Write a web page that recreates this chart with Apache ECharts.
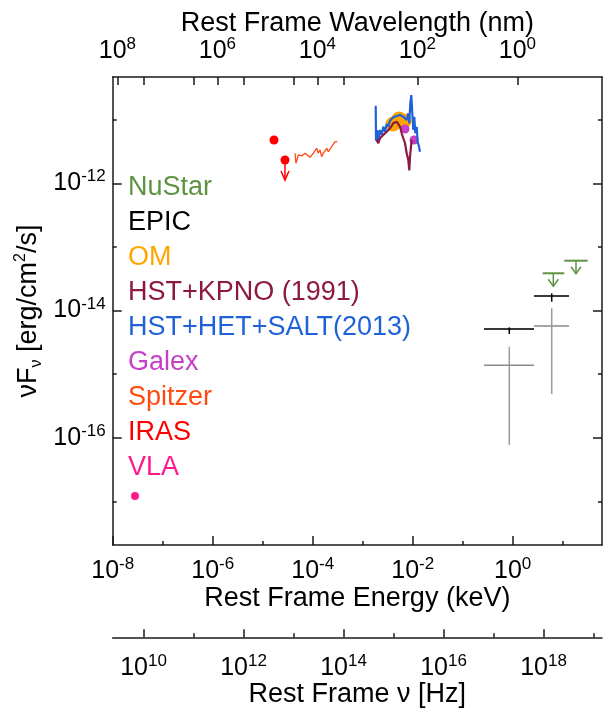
<!DOCTYPE html>
<html><head><meta charset="utf-8">
<script src="https://cdn.jsdelivr.net/npm/echarts@6/dist/echarts.min.js"></script>
<style>html,body{margin:0;padding:0;background:#fff}#c{width:603px;height:708px}</style>
</head><body><div id="c"></div>
<script>
// ---------- axis ranges & ticks ----------
const E_MIN = 1e-8, E_MAX = 61.1;          // keV
const F_MIN = 2.06e-18, F_MAX = 4.69e-11;  // erg/cm2/s
const KEV_TO_HZ = 2.417989e17;
const HC_KEV_NM = 1.239842;

const energyTicks = [1e-8, 1e-6, 1e-4, 1e-2, 1];
const energyMinorTicks = [1e-7, 1e-5, 1e-3, 1e-1, 10];
const fluxTicks = [1e-16, 1e-14, 1e-12];
const fluxMinorTicks = [1e-17, 1e-15, 1e-13, 1e-11];
const wavelengthTicks = [1e8, 1e6, 1e4, 1e2, 1];
const freqTicks = [1e10, 1e12, 1e14, 1e16, 1e18];
const freqMinorTicks = [1e11, 1e13, 1e15, 1e17, 1e19];
const freqTopTicks = [1e10, 1e11, 1e12, 1e13, 1e14];

const legendNames = ['NuStar', 'EPIC', 'OM', 'HST+KPNO (1991)', 'HST+HET+SALT(2013)', 'Galex', 'Spitzer', 'IRAS', 'VLA'];
const legendColors = ['#5e9441', '#000000', '#ffa500', '#8c1a3c', '#1f62d8', '#c540c8', '#ff4a12', '#ff0000', '#ff1a8c'];

// ---------- data (energy in keV, flux nuFnu in erg/cm2/s) ----------
const vlaE = [2.79e-8];
const vlaF = [1.21e-17];

const irasE = [1.683e-5, 2.79e-5];
const irasF = [4.80e-12, 2.32e-12];
const irasUpper = [false, true];

const spitzerE = [4.43e-5, 4.63e-5, 5.15e-5, 6.03e-5, 7.01e-5, 8.83e-5, 1.028e-4, 1.112e-4, 1.202e-4, 1.294e-4, 1.400e-4,
  1.514e-4, 1.629e-4, 1.762e-4, 1.905e-4, 2.051e-4, 2.218e-4, 2.399e-4, 2.582e-4, 2.793e-4, 3.105e-4];
const spitzerF = [2.97e-12, 2.06e-12, 2.79e-12, 2.69e-12, 2.97e-12, 2.56e-12, 2.97e-12, 3.14e-12, 3.55e-12, 2.97e-12, 3.34e-12,
  2.62e-12, 2.97e-12, 3.14e-12, 3.55e-12, 3.14e-12, 3.34e-12, 3.76e-12, 4.00e-12, 4.51e-12, 4.51e-12];

const hst2013E = [1.820e-3, 1.845e-3, 1.959e-3, 2.051e-3, 2.218e-3, 2.399e-3, 2.582e-3, 2.793e-3, 3.020e-3, 3.251e-3,
  3.516e-3, 4.093e-3, 4.786e-3, 5.572e-3, 6.486e-3, 7.586e-3, 8.166e-3, 8.551e-3, 8.954e-3, 9.376e-3,
  9.817e-3, 1.028e-2, 1.076e-2, 1.127e-2, 1.202e-2, 1.259e-2, 1.337e-2, 1.400e-2];
const hst2013F = [1.660e-11, 4.68e-12, 6.89e-12, 4.80e-12, 6.89e-12, 5.74e-12, 7.76e-12, 6.47e-12, 8.55e-12, 7.76e-12,
  9.64e-12, 1.091e-11, 1.143e-11, 1.186e-11, 1.114e-11, 9.89e-12, 1.262e-11, 8.77e-12, 1.811e-11, 2.44e-11,
  1.262e-11, 6.89e-12, 1.114e-11, 6.11e-12, 7.76e-12, 4.51e-12, 3.76e-12, 3.14e-12];

const hst1991E = [1.905e-3, 2.051e-3, 2.218e-3, 2.399e-3, 2.582e-3, 2.793e-3, 3.020e-3, 3.251e-3, 3.516e-3, 3.802e-3,
  4.093e-3, 4.426e-3, 4.786e-3, 5.152e-3, 5.572e-3, 6.026e-3, 6.486e-3, 7.015e-3, 7.586e-3, 8.166e-3,
  8.551e-3, 8.831e-3, 9.247e-3, 9.550e-3];
const hst1991F = [4.80e-12, 4.26e-12, 5.11e-12, 4.80e-12, 5.74e-12, 5.41e-12, 6.47e-12, 6.11e-12, 7.33e-12, 7.76e-12,
  8.77e-12, 8.26e-12, 9.31e-12, 8.77e-12, 7.76e-12, 6.11e-12, 5.11e-12, 4.26e-12, 2.97e-12, 2.32e-12,
  1.60e-12, 2.62e-12, 3.76e-12, 4.80e-12];

const omE = [4.04e-3, 5.32e-3, 6.70e-3];
const omF = [8.55e-12, 1.026e-11, 9.55e-12];

const galexE = [7.01e-3, 1.062e-2];
const galexF = [7.15e-12, 4.80e-12];

const epicE = [0.855, 6.03];
const epicElo = [0.267, 2.67];
const epicEhi = [2.67, 13.37];
const epicF = [5.12e-15, 1.690e-14];
const epicFlo = [4.28e-15, 1.374e-14];
const epicFhi = [5.44e-15, 1.862e-14];

const grayE = [0.855, 6.03];
const grayElo = [0.267, 2.67];
const grayEhi = [2.67, 13.37];
const grayF = [1.374e-15, 5.70e-15];
const grayFlo = [7.67e-17, 4.86e-16];
const grayFhi = [2.70e-15, 1.084e-14];

const nustarE = [6.49, 18.45];
const nustarElo = [3.98, 10.76];
const nustarEhi = [10.76, 31.6];
const nustarF = [3.85e-14, 6.07e-14];

// ---------- helpers ----------
const FONT = '"Liberation Sans", Arial, Helvetica, sans-serif';
const AX = '#1a1a1a';
const zip = (a, b) => a.map((v, i) => [v, b[i]]);
const labelRich = {
  b: { fontSize: 25, lineHeight: 30, fontFamily: FONT, color: '#000' },
  e: { fontSize: 17, lineHeight: 14, verticalAlign: 'top', fontFamily: FONT, color: '#000' }
};
const powLabel = v => '{b|10}{e|' + Math.round(Math.log10(v)) + '}';
const nameStyle = { fontSize: 27, fontFamily: FONT, color: '#000' };

function axis(o) {
  return Object.assign({
    type: 'log', logBase: 10, splitLine: { show: false }, minorTick: { show: false }, minorSplitLine: { show: false },
    axisLine: { show: false, lineStyle: { color: AX, width: 1.5 } },
    axisLabel: { show: false },
    axisPointer: { show: false },
    nameMoveOverlap: false
  }, o);
}
function ticks(vals, len) {
  return { show: true, inside: true, length: len, customValues: vals, lineStyle: { color: AX, width: 1.5 } };
}
function labels(vals, margin) {
  return { show: true, customValues: vals, margin: margin, formatter: powLabel, rich: labelRich, hideOverlap: false };
}
const lineOn = { show: true, lineStyle: { color: AX, width: 1.5 } };
const NU_OFFSET = 92.3;

const xAxes = [
  axis({ position: 'bottom', min: E_MIN, max: E_MAX, axisLine: lineOn, axisTick: ticks(energyTicks, 9),
    axisLabel: labels(energyTicks, 11), name: 'Rest Frame Energy (keV)', nameLocation: 'middle', nameGap: 40, nameTextStyle: nameStyle }),
  axis({ position: 'bottom', min: E_MIN, max: E_MAX, axisTick: ticks(energyMinorTicks, 4) }),
  axis({ position: 'top', inverse: true, min: HC_KEV_NM / E_MAX, max: HC_KEV_NM / E_MIN, axisLine: lineOn,
    axisTick: ticks(wavelengthTicks, 8), axisLabel: labels(wavelengthTicks, 11),
    name: 'Rest Frame Wavelength (nm)', nameLocation: 'middle', nameGap: 40, nameTextStyle: nameStyle }),
  axis({ position: 'top', min: E_MIN * KEV_TO_HZ, max: E_MAX * KEV_TO_HZ, axisTick: ticks(freqTopTicks, 8) }),
  axis({ position: 'bottom', offset: NU_OFFSET, min: E_MIN * KEV_TO_HZ, max: E_MAX * KEV_TO_HZ, axisLine: lineOn,
    axisTick: ticks(freqTicks, 8), axisLabel: labels(freqTicks, 16),
    name: 'Rest Frame ν [Hz]', nameLocation: 'middle', nameGap: 44, nameTextStyle: nameStyle }),
  axis({ position: 'bottom', offset: NU_OFFSET, min: E_MIN * KEV_TO_HZ, max: E_MAX * KEV_TO_HZ, axisTick: ticks(freqMinorTicks, 4) })
];
const yAxes = [
  axis({ position: 'left', min: F_MIN, max: F_MAX, axisLine: lineOn, axisTick: ticks(fluxTicks, 9),
    axisLabel: labels(fluxTicks, 7),
    name: '{a|νF}{s|ν}{a| [erg/cm}{p|2}{a|/s]}', nameLocation: 'middle', nameRotate: 90, nameGap: 68,
    nameTextStyle: { fontFamily: FONT, color: '#000', rich: {
      a: { fontSize: 27, lineHeight: 32, fontFamily: FONT, color: '#000' },
      s: { fontSize: 16, lineHeight: 16, verticalAlign: 'bottom', fontFamily: FONT, color: '#000' },
      p: { fontSize: 16, lineHeight: 16, verticalAlign: 'top', fontFamily: FONT, color: '#000' } } } }),
  axis({ position: 'left', min: F_MIN, max: F_MAX, axisTick: ticks(fluxMinorTicks, 4) }),
  axis({ position: 'right', min: F_MIN, max: F_MAX, axisLine: lineOn, axisTick: ticks(fluxTicks, 9) }),
  axis({ position: 'right', min: F_MIN, max: F_MAX, axisTick: ticks(fluxMinorTicks, 4) })
];

function errBarSeries(name, E, Elo, Ehi, F, Flo, Fhi, hColor, vColor, hw, vw) {
  return {
    name: name, type: 'custom', xAxisIndex: 0, yAxisIndex: 0, silent: true,
    data: E.map((e, i) => [e, F[i], Elo[i], Ehi[i], Flo[i], Fhi[i]]),
    encode: { x: [0, 2, 3], y: [1, 4, 5] },
    itemStyle: { color: hColor },
    renderItem: function (params, api) {
      const e = api.value(0), f = api.value(1);
      const a = api.coord([api.value(2), f]), b = api.coord([api.value(3), f]);
      const c = api.coord([e, api.value(4)]), d = api.coord([e, api.value(5)]);
      return { type: 'group', children: [
        { type: 'line', shape: { x1: a[0], y1: a[1], x2: b[0], y2: b[1] }, style: { stroke: hColor, lineWidth: hw } },
        { type: 'line', shape: { x1: c[0], y1: c[1], x2: d[0], y2: d[1] }, style: { stroke: vColor, lineWidth: vw } }
      ] };
    }
  };
}

function arrowShapes(x, y, stem, headW, headH, color) {
  return [
    { type: 'line', shape: { x1: x, y1: y, x2: x, y2: y + stem }, style: { stroke: color, lineWidth: 1.5 } },
    { type: 'polyline', shape: { points: [[x - headW, y + stem - headH], [x, y + stem], [x + headW, y + stem - headH]] },
      style: { stroke: color, fill: null, lineWidth: 1.5 } }
  ];
}

const nustarColor = legendColors[0];
const series = [
  { name: 'HST+HET+SALT(2013)', type: 'line', xAxisIndex: 0, yAxisIndex: 0, showSymbol: false, silent: true,
    data: zip(hst2013E, hst2013F), lineStyle: { color: legendColors[4], width: 2.2 }, itemStyle: { color: legendColors[4] } },
  { name: 'HST+KPNO (1991)', type: 'line', xAxisIndex: 0, yAxisIndex: 0, showSymbol: false, silent: true,
    data: zip(hst1991E, hst1991F), lineStyle: { color: legendColors[3], width: 2.2 }, itemStyle: { color: legendColors[3] } },
  { name: 'OM', type: 'scatter', xAxisIndex: 0, yAxisIndex: 0, symbolSize: 15, silent: true,
    data: zip(omE, omF), itemStyle: { color: legendColors[2], opacity: 1 } },
  { name: 'Galex', type: 'scatter', xAxisIndex: 0, yAxisIndex: 0, symbolSize: 9, silent: true,
    data: zip(galexE, galexF), itemStyle: { color: legendColors[5], opacity: 1 } },
  { name: 'Spitzer', type: 'line', xAxisIndex: 0, yAxisIndex: 0, showSymbol: false, silent: true,
    data: zip(spitzerE, spitzerF), lineStyle: { color: legendColors[6], width: 1.3 }, itemStyle: { color: legendColors[6] } },
  { name: 'IRAS', type: 'scatter', xAxisIndex: 0, yAxisIndex: 0, symbolSize: 9, silent: true,
    data: zip(irasE, irasF), itemStyle: { color: legendColors[7], opacity: 1 } },
  { name: 'IRAS', type: 'custom', xAxisIndex: 0, yAxisIndex: 0, silent: true,
    data: zip(irasE, irasF).filter((d, i) => irasUpper[i]),
    encode: { x: 0, y: 1 }, itemStyle: { color: legendColors[7] },
    renderItem: function (params, api) {
      const p = api.coord([api.value(0), api.value(1)]);
      return { type: 'group', children: arrowShapes(p[0], p[1], 20, 4, 9, legendColors[7]) };
    } },
  { name: 'VLA', type: 'scatter', xAxisIndex: 0, yAxisIndex: 0, symbolSize: 8, silent: true,
    data: zip(vlaE, vlaF), itemStyle: { color: legendColors[8], opacity: 1 } },
  errBarSeries('X-ray (grey)', grayE, grayElo, grayEhi, grayF, grayFlo, grayFhi, '#8a8a8a', '#9a9a9a', 1.5, 1.5),
  errBarSeries('EPIC', epicE, epicElo, epicEhi, epicF, epicFlo, epicFhi, '#3a3a3a', '#000000', 2, 1.5),
  { name: 'NuStar', type: 'custom', xAxisIndex: 0, yAxisIndex: 0, silent: true,
    data: nustarE.map((e, i) => [e, nustarF[i], nustarElo[i], nustarEhi[i]]),
    encode: { x: [0, 2, 3], y: 1 }, itemStyle: { color: nustarColor },
    renderItem: function (params, api) {
      const f = api.value(1);
      const a = api.coord([api.value(2), f]), b = api.coord([api.value(3), f]);
      const c = api.coord([api.value(0), f]);
      return { type: 'group', children: [
        { type: 'line', shape: { x1: a[0], y1: a[1], x2: b[0], y2: b[1] }, style: { stroke: nustarColor, lineWidth: 2 } }
      ].concat(arrowShapes(c[0], c[1], 13, 5, 7, nustarColor)) };
    } }
];

const chart = echarts.init(document.getElementById('c'), null, { renderer: 'canvas' });
chart.setOption({
  animation: false,
  backgroundColor: '#ffffff',
  textStyle: { fontFamily: FONT },
  grid: { left: 112.7, right: 1, top: 77, bottom: 163, containLabel: false, outerBoundsMode: 'none' },
  legend: {
    orient: 'vertical', left: 123, top: 174, padding: 0, itemGap: 8, itemWidth: 0, itemHeight: 27,
    icon: 'none', selectedMode: false,
    textStyle: { fontSize: 27, fontFamily: FONT },
    data: legendNames.map((n, i) => ({ name: n, icon: 'none', textStyle: { color: legendColors[i] } }))
  },
  xAxis: xAxes,
  yAxis: yAxes,
  series: series
});
</script></body></html>
